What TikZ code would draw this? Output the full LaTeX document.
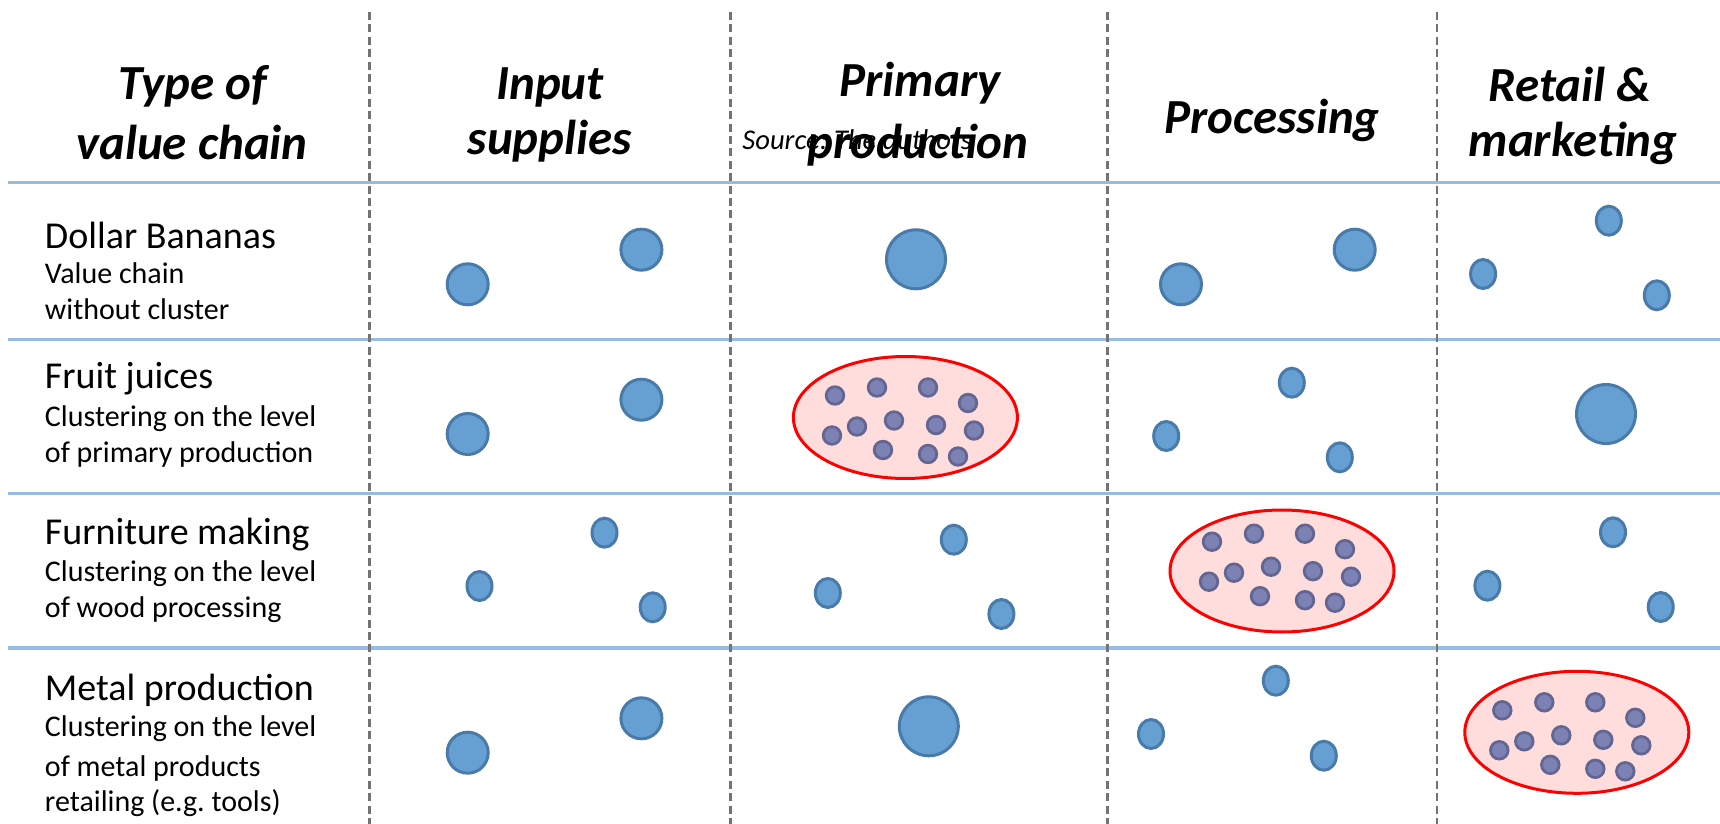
\documentclass[tikz,border=0pt]{standalone}
\usepackage{fontspec}
\setmainfont{Carlito}
\frenchspacing
\definecolor{hlinec}{RGB}{150,188,228}
\definecolor{vlinec}{RGB}{115,115,115}
\definecolor{bluefillc}{RGB}{102,160,210}
\definecolor{bluedrawc}{RGB}{72,122,170}
\definecolor{dotfillc}{RGB}{124,131,180}
\definecolor{dotdrawc}{RGB}{98,102,145}
\definecolor{clusterfillc}{RGB}{255,221,221}
\newcommand{\dotgroup}[2]{%
  \begin{scope}[shift={(#1,#2)}]
    \foreach \dx/\dy in {-70/-22,-28/-30,23/-30,63/-14.5,-73/18,-48/9,-11/3,31/7.5,69/13,-22/32.5,23/36.5,53/39}
      \path[clusterdot] (\dx,\dy) circle (8.8);
  \end{scope}}
\begin{document}
\begin{tikzpicture}[x=0.5pt,y=-0.5pt,
  hdr/.style={font=\fontsize{24.5}{29}\selectfont\bfseries\itshape, anchor=base, inner sep=0pt},
  ttl/.style={font=\fontsize{19}{23}\selectfont, anchor=base west, inner sep=0pt},
  subt/.style={font=\fontsize{15}{18}\selectfont, anchor=base west, inner sep=0pt},
  srcnote/.style={font=\fontsize{14.3}{17}\selectfont\itshape, anchor=base west, inner sep=0pt},
  rowline/.style={draw=hlinec, line width=1.6pt},
  colline/.style={draw=vlinec, line width=1.1pt, dash pattern=on 4pt off 2.2pt},
  bluedot/.style={fill=bluefillc, draw=bluedrawc, line width=1.5pt},
  clusterdot/.style={fill=dotfillc, draw=dotdrawc, line width=1.4pt},
  cluster/.style={fill=clusterfillc, draw=red, line width=1.5pt}]
\useasboundingbox[fill=white] (0,0) rectangle (1720,824);

% row separators
\foreach \yy in {182.5,339.3,493.5,648}
  \draw[rowline] (8,\yy) -- (1720,\yy);
% column separators
\foreach \xx in {369.5,730.5,1107.5,1437}
  \draw[colline] (\xx,12) -- (\xx,824);

% headers
\node[hdr] (h1a) at (193,100) {Type of};
\node[hdr] (h1b) at (192,159.3) {value chain};
\node[hdr] (h2a) at (550,100) {Input};
\node[hdr] (h2b) at (550,155) {supplies};
\node[hdr] (h3a) at (920,97) {Primary};
\node[hdr] (h3b) at (918,159) {production};
\node[hdr] (h4) at (1272,133.3) {Processing};
\node[hdr] (h5a) at (1570,101.7) {Retail \&};
\node[hdr] (h5b) at (1573,156.7) {marketing};
\node[srcnote] (src) at (742,149) {Source: The authors};

% row labels
\node[ttl] (r1t) at (44.6,248.3) {Dollar Bananas};
\node[subt] (r1a) at (44.6,283.3) {Value chain};
\node[subt] (r1b) at (44.6,319.3) {without cluster};
\node[ttl] (r2t) at (44.6,388.3) {Fruit juices};
\node[subt] (r2a) at (44.6,426.7) {Clustering on the level};
\node[subt] (r2b) at (44.6,462.7) {of primary production};
\node[ttl] (r3t) at (44.6,544) {Furniture making};
\node[subt] (r3a) at (44.6,581.7) {Clustering on the level};
\node[subt] (r3b) at (44.6,617.7) {of wood processing};
\node[ttl] (r4t) at (44.6,700) {Metal production};
\node[subt] (r4a) at (44.6,736.7) {Clustering on the level};
\node[subt] (r4b) at (44.6,776) {of metal products};
\node[subt] (r4c) at (44.6,811.5) {retailing (e.g. tools)};

% medium circles
\foreach \px/\py in {467.7/284.3,641.4/249.7,1181/284.3,1354.7/249.7,
                     467.7/434,641.4/399.7,467.7/752.7,641.4/718.3}
  \path[bluedot] (\px,\py) circle (20.5);
% large circles
\foreach \px/\py in {916/259.3,1606/414,928.8/726.3}
  \path[bluedot] (\px,\py) circle (29.5);
% small circles
\foreach \px/\py in {1608.8/220.7,1483.1/274,1656.8/295.3,
                     1291.8/382.7,1166.2/436,1339.8/457.3,
                     604.5/532.7,479.5/586,652.7/607.3,
                     953.8/539.7,827.8/593,1001.4/614,
                     1613/532.3,1487.4/585.7,1660.7/607,
                     1275.8/680.7,1151/734,1323.8/755.7}
  \path[bluedot] (\px,\py) ellipse (12.5 and 14.5);

% clusters
\path[cluster] (905.4,417.5) ellipse (112 and 61);
\dotgroup{905}{417.5}
\path[cluster] (1282,571) ellipse (112 and 61);
\dotgroup{1282}{563.7}
\path[cluster] (1576.8,732.3) ellipse (112 and 61);
\dotgroup{1572.3}{732.3}
\end{tikzpicture}
\end{document}
